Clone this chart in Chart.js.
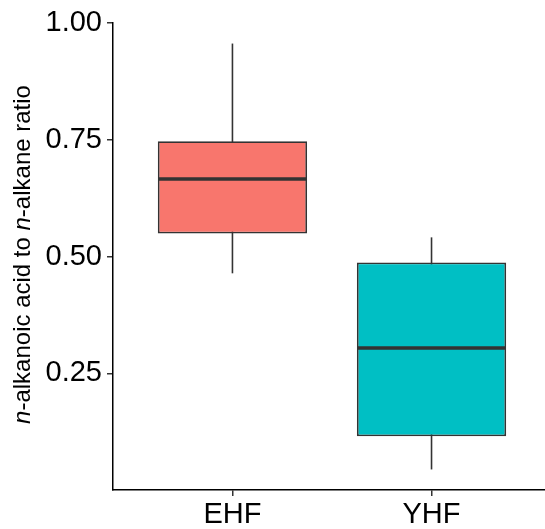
<!DOCTYPE html>
<html>
<head>
<meta charset="utf-8">
<script src="https://cdn.jsdelivr.net/npm/chart.js@4"></script>
<style>
    html, body { margin: 0; padding: 0; background: #fff; overflow: hidden; }
    #wrap { width: 545px; height: 529px; }
</style>
</head>
<body>
<div id="wrap"><canvas id="boxChart"></canvas></div>
<script>
const groups = ['EHF', 'YHF'];
const lowerWhisker = [0.464, 0.044];
const lowerQuartile = [0.549, 0.115];
const medians = [0.666, 0.304];
const upperQuartile = [0.747, 0.487];
const upperWhisker = [0.956, 0.541];
const yTickValues = [0.25, 0.50, 0.75, 1.00];
const fillColors = ['#F8766D', '#00BFC4'];

const fontFamily = '"Liberation Sans", Arial, sans-serif';
const lineColor = '#333333';

// whiskers behind the boxes, medians on top
const boxExtras = {
    id: 'boxExtras',
    beforeDatasetsDraw(chart) {
        const ctx = chart.ctx;
        const x = chart.scales.x, y = chart.scales.y;
        ctx.save();
        ctx.strokeStyle = lineColor;
        ctx.lineWidth = 1.6;
        groups.forEach((g, i) => {
            const px = x.getPixelForValue(i + 1);
            ctx.beginPath();
            ctx.moveTo(px, y.getPixelForValue(lowerWhisker[i]));
            ctx.lineTo(px, y.getPixelForValue(upperWhisker[i]));
            ctx.stroke();
        });
        ctx.restore();
    },
    afterDatasetsDraw(chart) {
        const ctx = chart.ctx;
        const y = chart.scales.y;
        const bars = chart.getDatasetMeta(0).data;
        ctx.save();
        ctx.strokeStyle = lineColor;
        ctx.lineWidth = 3.5;
        bars.forEach((bar, i) => {
            const py = y.getPixelForValue(medians[i]);
            ctx.beginPath();
            ctx.moveTo(bar.x - bar.width / 2 + 0.5, py);
            ctx.lineTo(bar.x + bar.width / 2 - 0.5, py);
            ctx.stroke();
        });
        ctx.restore();
    },
    afterDraw(chart) {
        // y title with italic "n"
        const ctx = chart.ctx;
        const area = chart.chartArea;
        const parts = [
            ['n', true], ['-alkanoic acid to ', false],
            ['n', true], ['-alkane ratio', false]
        ];
        const size = 24;
        ctx.save();
        ctx.fillStyle = '#000';
        ctx.textBaseline = 'middle';
        let total = 0;
        parts.forEach(p => {
            ctx.font = (p[1] ? 'italic ' : '') + size + 'px ' + fontFamily;
            total += ctx.measureText(p[0]).width;
        });
        ctx.translate(23, (area.top + area.bottom) / 2 - 2);
        ctx.rotate(-Math.PI / 2);
        let cx = -total / 2;
        parts.forEach(p => {
            ctx.font = (p[1] ? 'italic ' : '') + size + 'px ' + fontFamily;
            ctx.fillText(p[0], cx, 0);
            cx += ctx.measureText(p[0]).width;
        });
        ctx.restore();
    }
};

new Chart(document.getElementById('boxChart'), {
    type: 'bar',
    data: {
        datasets: [{
            data: groups.map((g, i) => ({ x: i + 1, y: [lowerQuartile[i], upperQuartile[i]] })),
            backgroundColor: fillColors,
            borderColor: lineColor,
            borderWidth: 1.8,
            borderSkipped: false,
            categoryPercentage: 1,
            barPercentage: 0.75
        }]
    },
    options: {
        responsive: true,
        maintainAspectRatio: false,
        animation: false,
        devicePixelRatio: 1,
        layout: { padding: { left: 38, top: 23, right: 0, bottom: 0 } },
        plugins: {
            legend: { display: false },
            tooltip: { enabled: false }
        },
        scales: {
            x: {
                type: 'linear',
                offset: false,
                min: 0.4,
                max: 2.57,
                afterBuildTicks: scale => { scale.ticks = groups.map((g, i) => ({ value: i + 1 })); },
                afterFit: scale => { scale.height = 39; },
                ticks: {
                    autoSkip: false,
                    maxRotation: 0,
                    padding: 2,
                    color: '#000',
                    font: { family: fontFamily, size: 29 },
                    callback: v => groups[v - 1] || ''
                },
                grid: {
                    display: true,
                    offset: false,
                    drawOnChartArea: false,
                    drawTicks: true,
                    tickLength: 6,
                    color: lineColor,
                    lineWidth: 1.5
                },
                border: { display: true, color: '#000', width: 1.5 }
            },
            y: {
                min: 0,
                max: 1,
                afterBuildTicks: scale => { scale.ticks = yTickValues.map(v => ({ value: v })); },
                afterFit: scale => { scale.width = 75; },
                ticks: {
                    padding: 5,
                    color: '#000',
                    font: { family: fontFamily, size: 29 },
                    callback: v => v.toFixed(2)
                },
                grid: {
                    display: true,
                    drawOnChartArea: false,
                    drawTicks: true,
                    tickLength: 6,
                    color: lineColor,
                    lineWidth: 1.5
                },
                border: { display: true, color: '#000', width: 1.5 }
            }
        }
    },
    plugins: [boxExtras]
});
</script>
</body>
</html>
